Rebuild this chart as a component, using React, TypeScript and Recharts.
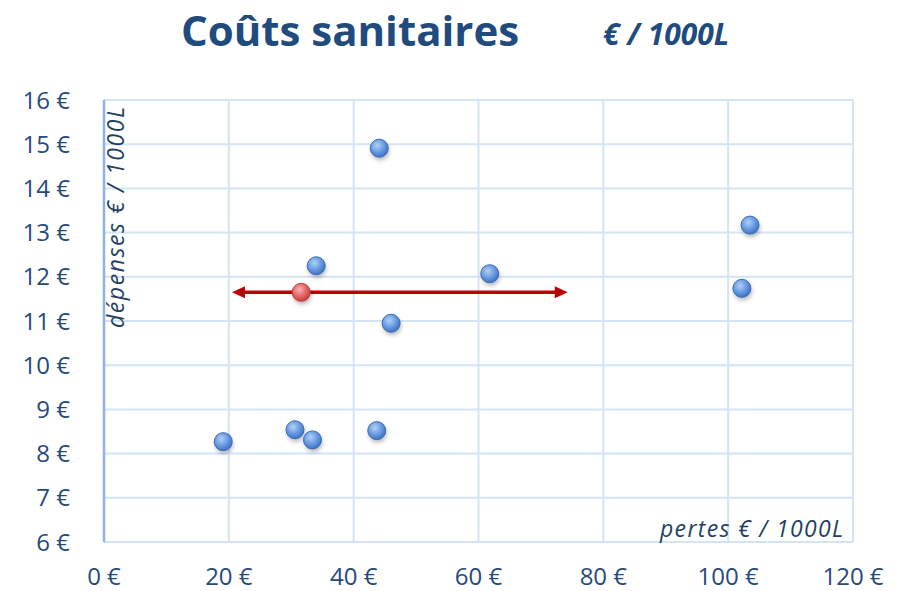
import React from "react";
import {
  ScatterChart,
  Scatter,
  XAxis,
  YAxis,
  CartesianGrid,
  ReferenceLine,
} from "recharts";

// pertes (€/1000L) vs dépenses (€/1000L)
const pertes = [19.1, 30.6, 33.4, 43.7, 34.0, 44.1, 46.0, 61.8, 102.2, 103.5];
const depenses = [8.27, 8.54, 8.31, 8.52, 12.25, 14.91, 10.95, 12.07, 11.74, 13.17];

const refPertes = [31.6];
const refDepenses = [11.65];

// range arrow
const arrowFrom = 20.5;
const arrowTo = 74.3;
const arrowLevel = 11.65;

const xTicks = [0, 20, 40, 60, 80, 100, 120];
const yTicks = [6, 7, 8, 9, 10, 11, 12, 13, 14, 15, 16];

const points = pertes.map((x, i) => ({ x, y: depenses[i] }));
const refPoints = refPertes.map((x, i) => ({ x, y: refDepenses[i] }));

const FONT = "'Open Sans', sans-serif";
const TICK_COLOR = "#264a7b";
const GRID = "#d4e3f5";

const euro = (v: number) => `${v} €`;

const Dot = (props: any, grad: string, stroke: string) => {
  const { cx, cy } = props;
  if (cx == null || cy == null) return <g />;
  return (
    <g>
      <circle cx={cx + 1} cy={cy + 3} r={9} fill="rgba(0,0,0,0.28)" filter="url(#dotShadow)" />
      <circle cx={cx} cy={cy} r={9} fill={`url(#${grad})`} stroke={stroke} strokeWidth={1} />
    </g>
  );
};

const Arrow = (props: any) => {
  const { x1, y1, x2, y2 } = props;
  if (x1 == null) return <g />;
  const c = "#c00000";
  const h = 13;
  const w = 6;
  return (
    <g>
      <line x1={x1 + h - 2} y1={y1} x2={x2 - h + 2} y2={y2} stroke={c} strokeWidth={3.5} />
      <polygon points={`${x1},${y1} ${x1 + h},${y1 - w} ${x1 + h},${y1 + w}`} fill={c} />
      <polygon points={`${x2},${y2} ${x2 - h},${y2 - w} ${x2 - h},${y2 + w}`} fill={c} />
    </g>
  );
};

export default function App() {
  const W = 890;
  const H = 583;
  return (
    <div style={{ position: "relative", width: W, height: H, fontFamily: FONT }}>
      <svg width={0} height={0} style={{ position: "absolute" }}>
        <defs>
          <radialGradient id="gradBlue" cx="40%" cy="35%" r="65%">
            <stop offset="0%" stopColor="#b3d0f7" />
            <stop offset="55%" stopColor="#6b9de3" />
            <stop offset="100%" stopColor="#3f73c4" />
          </radialGradient>
          <radialGradient id="gradRed" cx="40%" cy="35%" r="65%">
            <stop offset="0%" stopColor="#f7b3b3" />
            <stop offset="55%" stopColor="#e46a6a" />
            <stop offset="100%" stopColor="#c43e3e" />
          </radialGradient>
          <filter id="dotShadow" x="-50%" y="-50%" width="200%" height="200%">
            <feGaussianBlur stdDeviation="2" />
          </filter>
        </defs>
      </svg>
      <ScatterChart
        width={W}
        height={H}
        margin={{ top: 92, right: 45, bottom: 8, left: 0 }}
      >
        <CartesianGrid stroke={GRID} strokeWidth={2} />
        <XAxis
          type="number"
          dataKey="x"
          domain={[0, 120]}
          ticks={xTicks}
          tickFormatter={euro}
          height={41}
          tickSize={0}
          tickMargin={26}
          tickLine={false}
          axisLine={{ stroke: GRID, strokeWidth: 2 }}
          tick={{ fontSize: 24, fill: TICK_COLOR, fontFamily: FONT }}
        />
        <YAxis
          type="number"
          dataKey="y"
          domain={[6, 16]}
          ticks={yTicks}
          tickFormatter={euro}
          width={96}
          tickSize={0}
          tickMargin={34}
          tickLine={false}
          axisLine={{ stroke: "#8db3e2", strokeWidth: 2.5 }}
          tick={{ fontSize: 24, fill: TICK_COLOR, fontFamily: FONT }}
        />
        <Scatter
          data={points}
          isAnimationActive={false}
          shape={(p: any) => Dot(p, "gradBlue", "#3b6cb5")}
        />
        <Scatter
          data={refPoints}
          isAnimationActive={false}
          shape={(p: any) => Dot(p, "gradRed", "#c23b3b")}
        />
        <ReferenceLine
          segment={[
            { x: arrowFrom, y: arrowLevel },
            { x: arrowTo, y: arrowLevel },
          ]}
          shape={Arrow}
        />
      </ScatterChart>
      {/* titles and axis captions, in page coordinates */}
      <svg
        width={898}
        height={591}
        style={{ position: "absolute", left: -8, top: -8, pointerEvents: "none" }}
      >
        <text
          x={350}
          y={46}
          textAnchor="middle"
          fontSize={42}
          fontWeight="bold"
          fill="#1f4b7e"
          fontFamily={FONT}
        >
          Coûts sanitaires
        </text>
        <text
          x={603}
          y={45}
          fontSize={30}
          fontWeight="bold"
          fontStyle="italic"
          fill="#1f4b7e"
          fontFamily={FONT}
        >
          € / 1000L
        </text>
        <text
          x={124}
          y={217.5}
          transform="rotate(-90 124 217.5)"
          textAnchor="middle"
          fontSize={23}
          fontStyle="italic"
          fill="#243f63"
          fontFamily={FONT}
          textLength={221}
          lengthAdjust="spacing"
        >
          dépenses € / 1000L
        </text>
        <text
          x={660}
          y={537}
          fontSize={23}
          fontStyle="italic"
          fill="#243f63"
          fontFamily={FONT}
          textLength={183}
          lengthAdjust="spacing"
        >
          pertes € / 1000L
        </text>
      </svg>
    </div>
  );
}
